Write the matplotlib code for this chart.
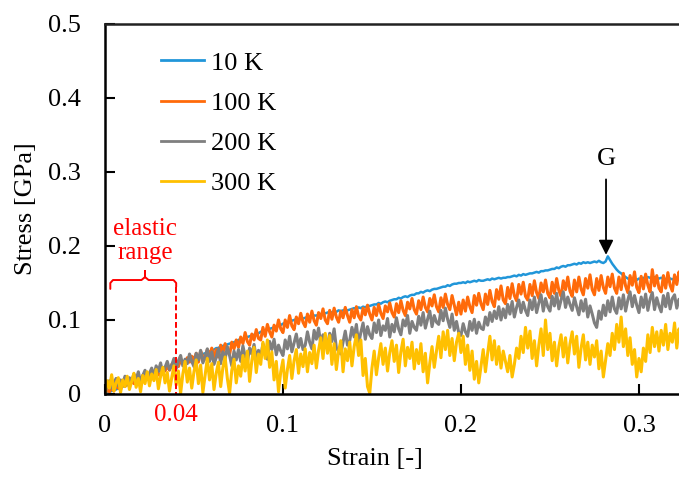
import numpy as np
import matplotlib
matplotlib.use("Agg")
import matplotlib.pyplot as plt
from matplotlib.ticker import FixedLocator, FuncFormatter

plt.rcParams['font.family'] = ['Liberation Serif', 'DejaVu Serif']

strain = np.arange(260) * 0.00125

# 10 K
s10 = [0.000, 0.002, 0.003, 0.004, 0.006, 0.006, 0.008, 0.009, 0.010, 0.011,
       0.013, 0.014, 0.015, 0.017, 0.017, 0.019, 0.020, 0.022, 0.022, 0.024,
       0.026, 0.027, 0.028, 0.029, 0.030, 0.031, 0.033, 0.033, 0.035, 0.036,
       0.038, 0.039, 0.040, 0.041, 0.042, 0.044, 0.044, 0.046, 0.047, 0.048,
       0.050, 0.051, 0.051, 0.053, 0.054, 0.055, 0.056, 0.057, 0.059, 0.060,
       0.062, 0.062, 0.064, 0.065, 0.066, 0.067, 0.068, 0.069, 0.070, 0.071,
       0.073, 0.074, 0.074, 0.076, 0.077, 0.078, 0.079, 0.080, 0.081, 0.082,
       0.084, 0.085, 0.086, 0.087, 0.088, 0.089, 0.090, 0.091, 0.092, 0.093,
       0.095, 0.096, 0.097, 0.098, 0.099, 0.100, 0.101, 0.101, 0.102, 0.102,
       0.103, 0.104, 0.104, 0.105, 0.106, 0.106, 0.107, 0.108, 0.108, 0.109,
       0.110, 0.111, 0.110, 0.112, 0.111, 0.113, 0.112, 0.113, 0.114, 0.113,
       0.114, 0.115, 0.116, 0.115, 0.117, 0.116, 0.118, 0.117, 0.119, 0.119,
       0.120, 0.121, 0.121, 0.123, 0.122, 0.124, 0.125, 0.124, 0.126, 0.127,
       0.128, 0.128, 0.130, 0.129, 0.131, 0.132, 0.131, 0.133, 0.134, 0.134,
       0.136, 0.136, 0.138, 0.137, 0.139, 0.140, 0.139, 0.141, 0.142, 0.142,
       0.143, 0.144, 0.145, 0.145, 0.147, 0.146, 0.148, 0.149, 0.149, 0.150,
       0.150, 0.151, 0.150, 0.152, 0.151, 0.152, 0.153, 0.152, 0.154, 0.153,
       0.153, 0.154, 0.155, 0.154, 0.156, 0.155, 0.156, 0.157, 0.156, 0.157,
       0.157, 0.158, 0.158, 0.159, 0.160, 0.159, 0.161, 0.160, 0.162, 0.161,
       0.162, 0.163, 0.163, 0.164, 0.165, 0.164, 0.166, 0.166, 0.167, 0.167,
       0.168, 0.169, 0.169, 0.171, 0.170, 0.172, 0.173, 0.172, 0.174, 0.174,
       0.175, 0.176, 0.175, 0.177, 0.176, 0.178, 0.177, 0.178, 0.177, 0.178,
       0.179, 0.178, 0.180, 0.178, 0.177, 0.179, 0.186, 0.181, 0.176, 0.172,
       0.168, 0.165, 0.163, 0.160, 0.158, 0.156, 0.155, 0.154, 0.155, 0.154,
       0.156, 0.155, 0.157, 0.156, 0.158, 0.157, 0.156, 0.158, 0.157, 0.156,
       0.157, 0.156, 0.155, 0.157, 0.156, 0.155, 0.156, 0.157, 0.155, 0.156]

# 100 K
s100 = [0.000, 0.006, 0.003, 0.009, 0.004, 0.012, 0.008, 0.006, 0.014, 0.010,
        0.016, 0.011, 0.019, 0.014, 0.022, 0.017, 0.015, 0.025, 0.020, 0.026,
        0.021, 0.030, 0.025, 0.033, 0.027, 0.024, 0.036, 0.031, 0.038, 0.032,
        0.040, 0.033, 0.044, 0.037, 0.047, 0.041, 0.038, 0.049, 0.043, 0.051,
        0.045, 0.055, 0.043, 0.058, 0.050, 0.047, 0.060, 0.052, 0.062, 0.049,
        0.060, 0.050, 0.066, 0.055, 0.068, 0.059, 0.053, 0.070, 0.061, 0.073,
        0.063, 0.077, 0.068, 0.083, 0.071, 0.066, 0.081, 0.073, 0.087, 0.075,
        0.073, 0.090, 0.078, 0.094, 0.084, 0.077, 0.093, 0.085, 0.100, 0.088,
        0.083, 0.100, 0.090, 0.106, 0.092, 0.087, 0.104, 0.095, 0.109, 0.097,
        0.091, 0.108, 0.097, 0.112, 0.099, 0.093, 0.110, 0.102, 0.115, 0.100,
        0.095, 0.113, 0.101, 0.116, 0.104, 0.097, 0.112, 0.103, 0.117, 0.106,
        0.097, 0.114, 0.103, 0.118, 0.105, 0.100, 0.116, 0.107, 0.120, 0.108,
        0.100, 0.117, 0.106, 0.121, 0.109, 0.102, 0.119, 0.111, 0.123, 0.110,
        0.104, 0.122, 0.110, 0.126, 0.113, 0.106, 0.124, 0.115, 0.129, 0.114,
        0.108, 0.126, 0.114, 0.131, 0.117, 0.111, 0.129, 0.119, 0.134, 0.118,
        0.111, 0.130, 0.117, 0.135, 0.121, 0.114, 0.133, 0.120, 0.107, 0.124,
        0.108, 0.127, 0.112, 0.131, 0.118, 0.110, 0.133, 0.120, 0.136, 0.122,
        0.114, 0.135, 0.121, 0.140, 0.125, 0.118, 0.141, 0.128, 0.146, 0.127,
        0.122, 0.144, 0.129, 0.149, 0.133, 0.126, 0.148, 0.135, 0.151, 0.132,
        0.127, 0.148, 0.133, 0.153, 0.137, 0.129, 0.150, 0.138, 0.154, 0.136,
        0.130, 0.151, 0.136, 0.156, 0.140, 0.132, 0.153, 0.141, 0.158, 0.139,
        0.132, 0.154, 0.138, 0.158, 0.142, 0.134, 0.156, 0.143, 0.161, 0.141,
        0.134, 0.156, 0.140, 0.160, 0.144, 0.136, 0.158, 0.145, 0.162, 0.143,
        0.136, 0.158, 0.141, 0.163, 0.146, 0.137, 0.160, 0.147, 0.165, 0.144,
        0.137, 0.159, 0.142, 0.162, 0.147, 0.138, 0.168, 0.146, 0.160, 0.143,
        0.138, 0.160, 0.143, 0.164, 0.147, 0.139, 0.161, 0.148, 0.165, 0.144]

# 200 K
s200 = [0.000, 0.012, 0.018, 0.008, 0.015, 0.021, 0.011, 0.019, 0.014, 0.024,
        0.012, 0.022, 0.017, 0.027, 0.020, 0.030, 0.016, 0.025, 0.032, 0.021,
        0.028, 0.035, 0.024, 0.038, 0.031, 0.042, 0.027, 0.036, 0.044, 0.033,
        0.039, 0.048, 0.034, 0.045, 0.052, 0.038, 0.047, 0.041, 0.054, 0.044,
        0.037, 0.055, 0.046, 0.059, 0.042, 0.050, 0.061, 0.044, 0.057, 0.040,
        0.049, 0.062, 0.041, 0.057, 0.047, 0.064, 0.052, 0.038, 0.058, 0.046,
        0.060, 0.044, 0.065, 0.051, 0.043, 0.062, 0.054, 0.067, 0.048, 0.059,
        0.050, 0.068, 0.056, 0.047, 0.071, 0.060, 0.074, 0.053, 0.066, 0.058,
        0.052, 0.073, 0.061, 0.078, 0.057, 0.069, 0.081, 0.063, 0.075, 0.060,
        0.066, 0.084, 0.070, 0.061, 0.086, 0.074, 0.089, 0.068, 0.080, 0.071,
        0.064, 0.082, 0.071, 0.088, 0.062, 0.058, 0.054, 0.070, 0.085, 0.066,
        0.072, 0.090, 0.077, 0.094, 0.068, 0.083, 0.096, 0.074, 0.091, 0.080,
        0.075, 0.096, 0.083, 0.100, 0.079, 0.092, 0.086, 0.102, 0.077, 0.094,
        0.084, 0.103, 0.088, 0.080, 0.100, 0.092, 0.106, 0.082, 0.098, 0.090,
        0.086, 0.105, 0.093, 0.110, 0.089, 0.101, 0.112, 0.091, 0.106, 0.097,
        0.094, 0.113, 0.099, 0.116, 0.101, 0.090, 0.108, 0.086, 0.098, 0.083,
        0.079, 0.095, 0.084, 0.078, 0.098, 0.086, 0.101, 0.082, 0.097, 0.089,
        0.087, 0.104, 0.093, 0.110, 0.098, 0.112, 0.102, 0.118, 0.100, 0.115,
        0.103, 0.121, 0.108, 0.125, 0.104, 0.117, 0.127, 0.110, 0.124, 0.113,
        0.106, 0.127, 0.114, 0.131, 0.110, 0.123, 0.134, 0.112, 0.129, 0.118,
        0.112, 0.132, 0.119, 0.136, 0.115, 0.127, 0.138, 0.117, 0.131, 0.121,
        0.113, 0.130, 0.118, 0.107, 0.126, 0.112, 0.128, 0.104, 0.119, 0.108,
        0.096, 0.090, 0.112, 0.101, 0.120, 0.106, 0.126, 0.111, 0.131, 0.115,
        0.109, 0.130, 0.115, 0.134, 0.112, 0.127, 0.138, 0.118, 0.133, 0.120,
        0.110, 0.131, 0.117, 0.135, 0.113, 0.128, 0.137, 0.114, 0.130, 0.119,
        0.111, 0.133, 0.118, 0.136, 0.115, 0.129, 0.134, 0.116, 0.128, 0.121]

# 300 K
s300 = [0.000, 0.018, 0.008, 0.026, 0.004, 0.015, 0.022, 0.002, 0.019, 0.010,
        0.024, 0.006, 0.017, 0.028, 0.009, 0.021, 0.003, 0.025, 0.014, 0.030,
        0.011, 0.027, 0.018, 0.033, 0.007, 0.024, 0.036, 0.015, 0.029, 0.004,
        0.022, 0.038, 0.012, 0.031, 0.001, 0.027, 0.044, 0.016, 0.035, 0.008,
        0.030, 0.046, 0.014, 0.039, 0.002, 0.025, 0.048, 0.019, 0.041, 0.006,
        0.028, 0.043, 0.010, 0.036, 0.050, 0.021, 0.001, 0.032, 0.047, 0.015,
        0.038, 0.024, 0.052, 0.031, 0.058, 0.017, 0.045, 0.063, 0.029, 0.054,
        0.040, 0.070, 0.048, 0.073, 0.036, 0.057, 0.019, 0.044, 0.003, 0.030,
        0.046, 0.008, 0.033, 0.052, 0.021, 0.045, 0.060, 0.028, 0.054, 0.037,
        0.061, 0.030, 0.056, 0.041, 0.066, 0.035, 0.059, 0.076, 0.048, 0.082,
        0.055, 0.079, 0.040, 0.068, 0.033, 0.058, 0.072, 0.030, 0.061, 0.045,
        0.070, 0.038, 0.064, 0.080, 0.052, 0.073, 0.025, 0.048, 0.010, 0.001,
        0.035, 0.058, 0.026, 0.049, 0.068, 0.040, 0.062, 0.031, 0.056, 0.072,
        0.044, 0.066, 0.029, 0.057, 0.074, 0.038, 0.063, 0.048, 0.070, 0.034,
        0.060, 0.041, 0.068, 0.030, 0.055, 0.015, 0.042, 0.064, 0.036, 0.058,
        0.078, 0.049, 0.084, 0.060, 0.086, 0.052, 0.075, 0.045, 0.070, 0.082,
        0.056, 0.078, 0.040, 0.066, 0.032, 0.058, 0.020, 0.044, 0.015, 0.038,
        0.060, 0.030, 0.055, 0.078, 0.046, 0.072, 0.040, 0.064, 0.035, 0.058,
        0.044, 0.030, 0.052, 0.023, 0.040, 0.062, 0.048, 0.078, 0.056, 0.090,
        0.062, 0.085, 0.048, 0.072, 0.038, 0.066, 0.088, 0.052, 0.100, 0.060,
        0.082, 0.045, 0.070, 0.038, 0.064, 0.080, 0.050, 0.076, 0.042, 0.068,
        0.084, 0.054, 0.078, 0.036, 0.062, 0.080, 0.046, 0.070, 0.040, 0.066,
        0.050, 0.072, 0.034, 0.058, 0.023, 0.046, 0.068, 0.052, 0.082, 0.060,
        0.094, 0.070, 0.104, 0.064, 0.088, 0.052, 0.076, 0.040, 0.060, 0.023,
        0.048, 0.030, 0.062, 0.044, 0.080, 0.056, 0.090, 0.064, 0.084, 0.058,
        0.086, 0.066, 0.094, 0.060, 0.082, 0.070, 0.096, 0.062, 0.088, 0.074]

labels = ["10 K", "100 K", "200 K", "300 K"]
colors = ["#2196D9", "#FF6A0A", "#7F7F7F", "#FFC000"]
widths = [1.8, 2.2, 2.2, 2.2]

elastic_limit = 0.04
peak_strain = 0.2815

fig = plt.figure(figsize=(6.79, 4.79), dpi=100)
ax = fig.add_axes([0.1546, 0.1775, 0.8454, 0.7724])

for ys, lab, c, w in zip([s10, s100, s200, s300], labels, colors, widths):
    ax.plot(strain, ys, color=c, lw=w, label=lab)

ax.set_xlim(0, 0.3225)
ax.set_ylim(0, 0.5)

ax.xaxis.set_major_locator(FixedLocator([0, 0.1, 0.2, 0.3]))
ax.yaxis.set_major_locator(FixedLocator([0, 0.1, 0.2, 0.3, 0.4, 0.5]))
fmt = FuncFormatter(lambda v, p: "0" if v == 0 else "%g" % v)
ax.xaxis.set_major_formatter(fmt)
ax.yaxis.set_major_formatter(fmt)
ax.tick_params(direction="in", length=7, width=1.5, labelsize=19)
ax.tick_params(axis="y", pad=17)
ax.tick_params(axis="x", pad=15)

for side in ["left", "bottom", "top"]:
    ax.spines[side].set_linewidth(1.8)
ax.spines["top"].set_color("#222222")
ax.spines["right"].set_visible(False)

ax.set_ylabel("Stress [GPa]", fontsize=19, labelpad=8)
ax.set_xlabel("Strain [-]", fontsize=19)
ax.xaxis.set_label_coords(0.47, -0.147)

leg = ax.legend(loc="upper left", bbox_to_anchor=(0.0745, 0.962), frameon=False,
                fontsize=19, handlelength=1.65, handletextpad=0.25,
                labelspacing=0.63, borderpad=0)
for h in leg.get_lines():
    h.set_linewidth(2.0)

# arrow pointing at the peak G
ax.annotate("", xy=(peak_strain, 0.188), xytext=(peak_strain, 0.290),
            arrowprops=dict(arrowstyle="-|>", color="black", lw=1.3,
                            mutation_scale=22, shrinkA=0, shrinkB=0))
ax.text(peak_strain, 0.318, "G", fontsize=19, ha="center", va="center")

# elastic range bracket
red = "#FF0000"
bx = [0.003, 0.003, 0.0045, 0.0205, 0.0225, 0.0225, 0.0225, 0.0245, 0.0385, 0.040, 0.040]
by = [0.142, 0.150, 0.154, 0.154, 0.158, 0.166, 0.158, 0.154, 0.154, 0.150, 0.145]
ax.plot(bx, by, color=red, lw=1.4, solid_capstyle="round")
ax.plot([elastic_limit, elastic_limit], [0.145, 0], color=red, lw=1.4,
        linestyle=(0, (3, 1.5)))
ax.text(0.0225, 0.207, "elastic\nrange", color=red, fontsize=18,
        ha="center", va="center", linespacing=1.12)
ax.annotate("0.04", xy=(elastic_limit, 0), xycoords=("data", "axes fraction"),
            xytext=(0, -15), textcoords="offset points", color=red,
            fontsize=18, ha="center", va="center")

fig.savefig("out.png", dpi=100)
